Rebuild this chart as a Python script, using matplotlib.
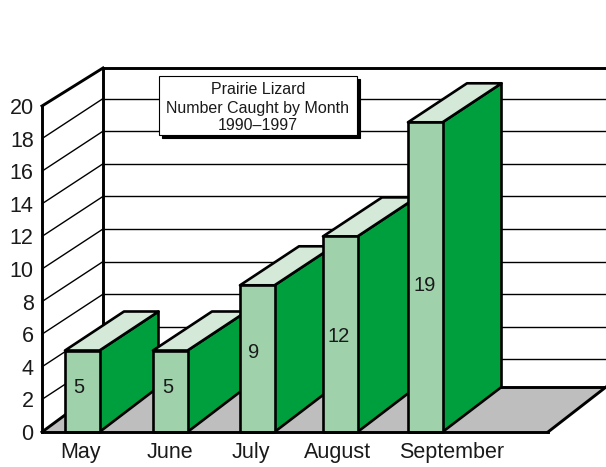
import matplotlib
matplotlib.use("Agg")
import matplotlib.pyplot as plt
from matplotlib.patches import Polygon, Rectangle

plt.rcParams["font.family"] = ["Liberation Sans", "DejaVu Sans"]

# Data
months = ["May", "June", "July", "August", "September"]
caught = [5, 5, 9, 12, 19]
y_ticks = list(range(0, 21, 2))
title_lines = ["Prairie Lizard", "Number Caught by Month", "1990\u20131997"]

# Layout, in horizontal pixels of the 606-wide canvas
bar_left = [65, 153, 240, 323, 408]
month_label_x = [80, 170, 251, 338, 452]
value_label_x = [79, 168, 254, 339, 425]
value_label_v = [2.72, 2.72, 4.85, 5.83, 9.0]
BAR_W = 34.5
DEPTH_X = 59
WALL_X = 42
BACK_X = 103
RIGHT_X = 606
FLOOR_FRONT_END = 548

# Vertical scale of the front plane and how far each element rises, in pixels,
# when carried from the front plane to the back plane
FRONT_PX = 16.3
BAR_RISE_PX = 39.0
GRID_RISE_PX = 40.0
TOP_RISE_PX = 38.0
FLOOR_RISE_PX = 45.0
FLOOR_BACK = FLOOR_RISE_PX / FRONT_PX


def raised(v, rise_px):
    """Front-plane value that sits rise_px above value v."""
    return v + rise_px / FRONT_PX


W, H = 606, 467
fig = plt.figure(figsize=(W / 100, H / 100), dpi=100, facecolor="white")
ax = fig.add_axes([WALL_X / W, (H - 432) / H, (W - WALL_X) / W, 432 / H])
ax.set_xlim(WALL_X, W)
ax.set_ylim(0, 432 / FRONT_PX)
ax.patch.set_visible(False)
for s in ax.spines.values():
    s.set_visible(False)

ax.set_yticks(y_ticks)
ax.set_yticklabels([str(t) for t in y_ticks], fontsize=15.5, color="#1a1a1a")
ax.set_xticks(month_label_x)
ax.set_xticklabels(months, fontsize=15.5, color="#1a1a1a")
ax.tick_params(axis="both", length=0)
ax.tick_params(axis="y", pad=6)
ax.tick_params(axis="x", pad=7)

BLACK = "black"
THICK = 2.1
MID = 1.9
THIN = 1.0
kw = dict(clip_on=False, solid_capstyle="projecting")

# Floor
ax.add_patch(Polygon([(WALL_X, 0), (FLOOR_FRONT_END, 0), (RIGHT_X, FLOOR_BACK), (BACK_X, FLOOR_BACK)],
                     closed=True, facecolor="#BEBEBE", edgecolor="none", clip_on=False, zorder=1))

# Gridlines across the back wall and down the side wall
for t in y_ticks[1:-1]:
    b = raised(t, GRID_RISE_PX)
    ax.plot([BACK_X, RIGHT_X], [b, b], color=BLACK, lw=THIN, zorder=2, clip_on=False)
    ax.plot([WALL_X, BACK_X], [t, b], color=BLACK, lw=THIN, zorder=2, clip_on=False)

# Frame of the walls and floor
top = y_ticks[-1]
top_back = raised(top, TOP_RISE_PX)
ax.plot([WALL_X, WALL_X], [0, top], color=BLACK, lw=THICK, zorder=3, **kw)
ax.plot([WALL_X, BACK_X], [top, top_back], color=BLACK, lw=THICK, zorder=3, **kw)
ax.plot([BACK_X, RIGHT_X], [top_back, top_back], color=BLACK, lw=THICK, zorder=3, **kw)
ax.plot([BACK_X, BACK_X], [FLOOR_BACK, top_back], color=BLACK, lw=THICK, zorder=3, **kw)
ax.plot([WALL_X, BACK_X], [0, FLOOR_BACK], color=BLACK, lw=THICK, zorder=3, **kw)
ax.plot([BACK_X, RIGHT_X], [FLOOR_BACK, FLOOR_BACK], color=BLACK, lw=THICK, zorder=3, **kw)
ax.plot([FLOOR_FRONT_END, RIGHT_X], [0, FLOOR_BACK], color=BLACK, lw=THICK, zorder=3, clip_on=False)

# Bars, left to right so each front face overlaps its neighbour's side
z = 4
for left, v in zip(bar_left, caught):
    right = left + BAR_W
    b = raised(v, BAR_RISE_PX)
    pk = dict(closed=True, edgecolor=BLACK, lw=MID, joinstyle="round", clip_on=False)
    ax.add_patch(Polygon([(right, 0), (right + DEPTH_X, FLOOR_BACK), (right + DEPTH_X, b), (right, v)],
                         facecolor="#009F3E", zorder=z, **pk))
    ax.add_patch(Polygon([(left, v), (right, v), (right + DEPTH_X, b), (left + DEPTH_X, b)],
                         facecolor="#D5E9D8", zorder=z, **pk))
    ax.add_patch(Polygon([(left, 0), (right, 0), (right, v), (left, v)],
                         facecolor="#9FD2AB", zorder=z + 0.5, **pk))
    z += 1

ax.plot([WALL_X, FLOOR_FRONT_END], [0, 0], color=BLACK, lw=THICK, zorder=z, **kw)

for x, v, val in zip(value_label_x, value_label_v, caught):
    ax.text(x, v, str(val), ha="center", va="center", fontsize=14.5, color="#1a1a1a", zorder=z + 1)

# Title box with a drop shadow, placed in canvas pixels
to_fig = lambda px, py: (px / W, 1 - py / H)
x0, y0 = to_fig(159, 135)
bw, bh = 198 / W, 59 / H
fig.add_artist(Rectangle((x0 + 3 / W, y0 - 3 / H), bw, bh, transform=fig.transFigure,
                         facecolor=BLACK, edgecolor=BLACK, lw=0.8, zorder=20))
fig.add_artist(Rectangle((x0, y0), bw, bh, transform=fig.transFigure,
                         facecolor="white", edgecolor=BLACK, lw=0.8, zorder=21))
for line, py in zip(title_lines, [89, 108, 126]):
    tx, ty = to_fig(258, py)
    fig.text(tx, ty, line, ha="center", va="center", fontsize=11.5, color="#1a1a1a", zorder=22)

fig.savefig("out.png", dpi=100)
